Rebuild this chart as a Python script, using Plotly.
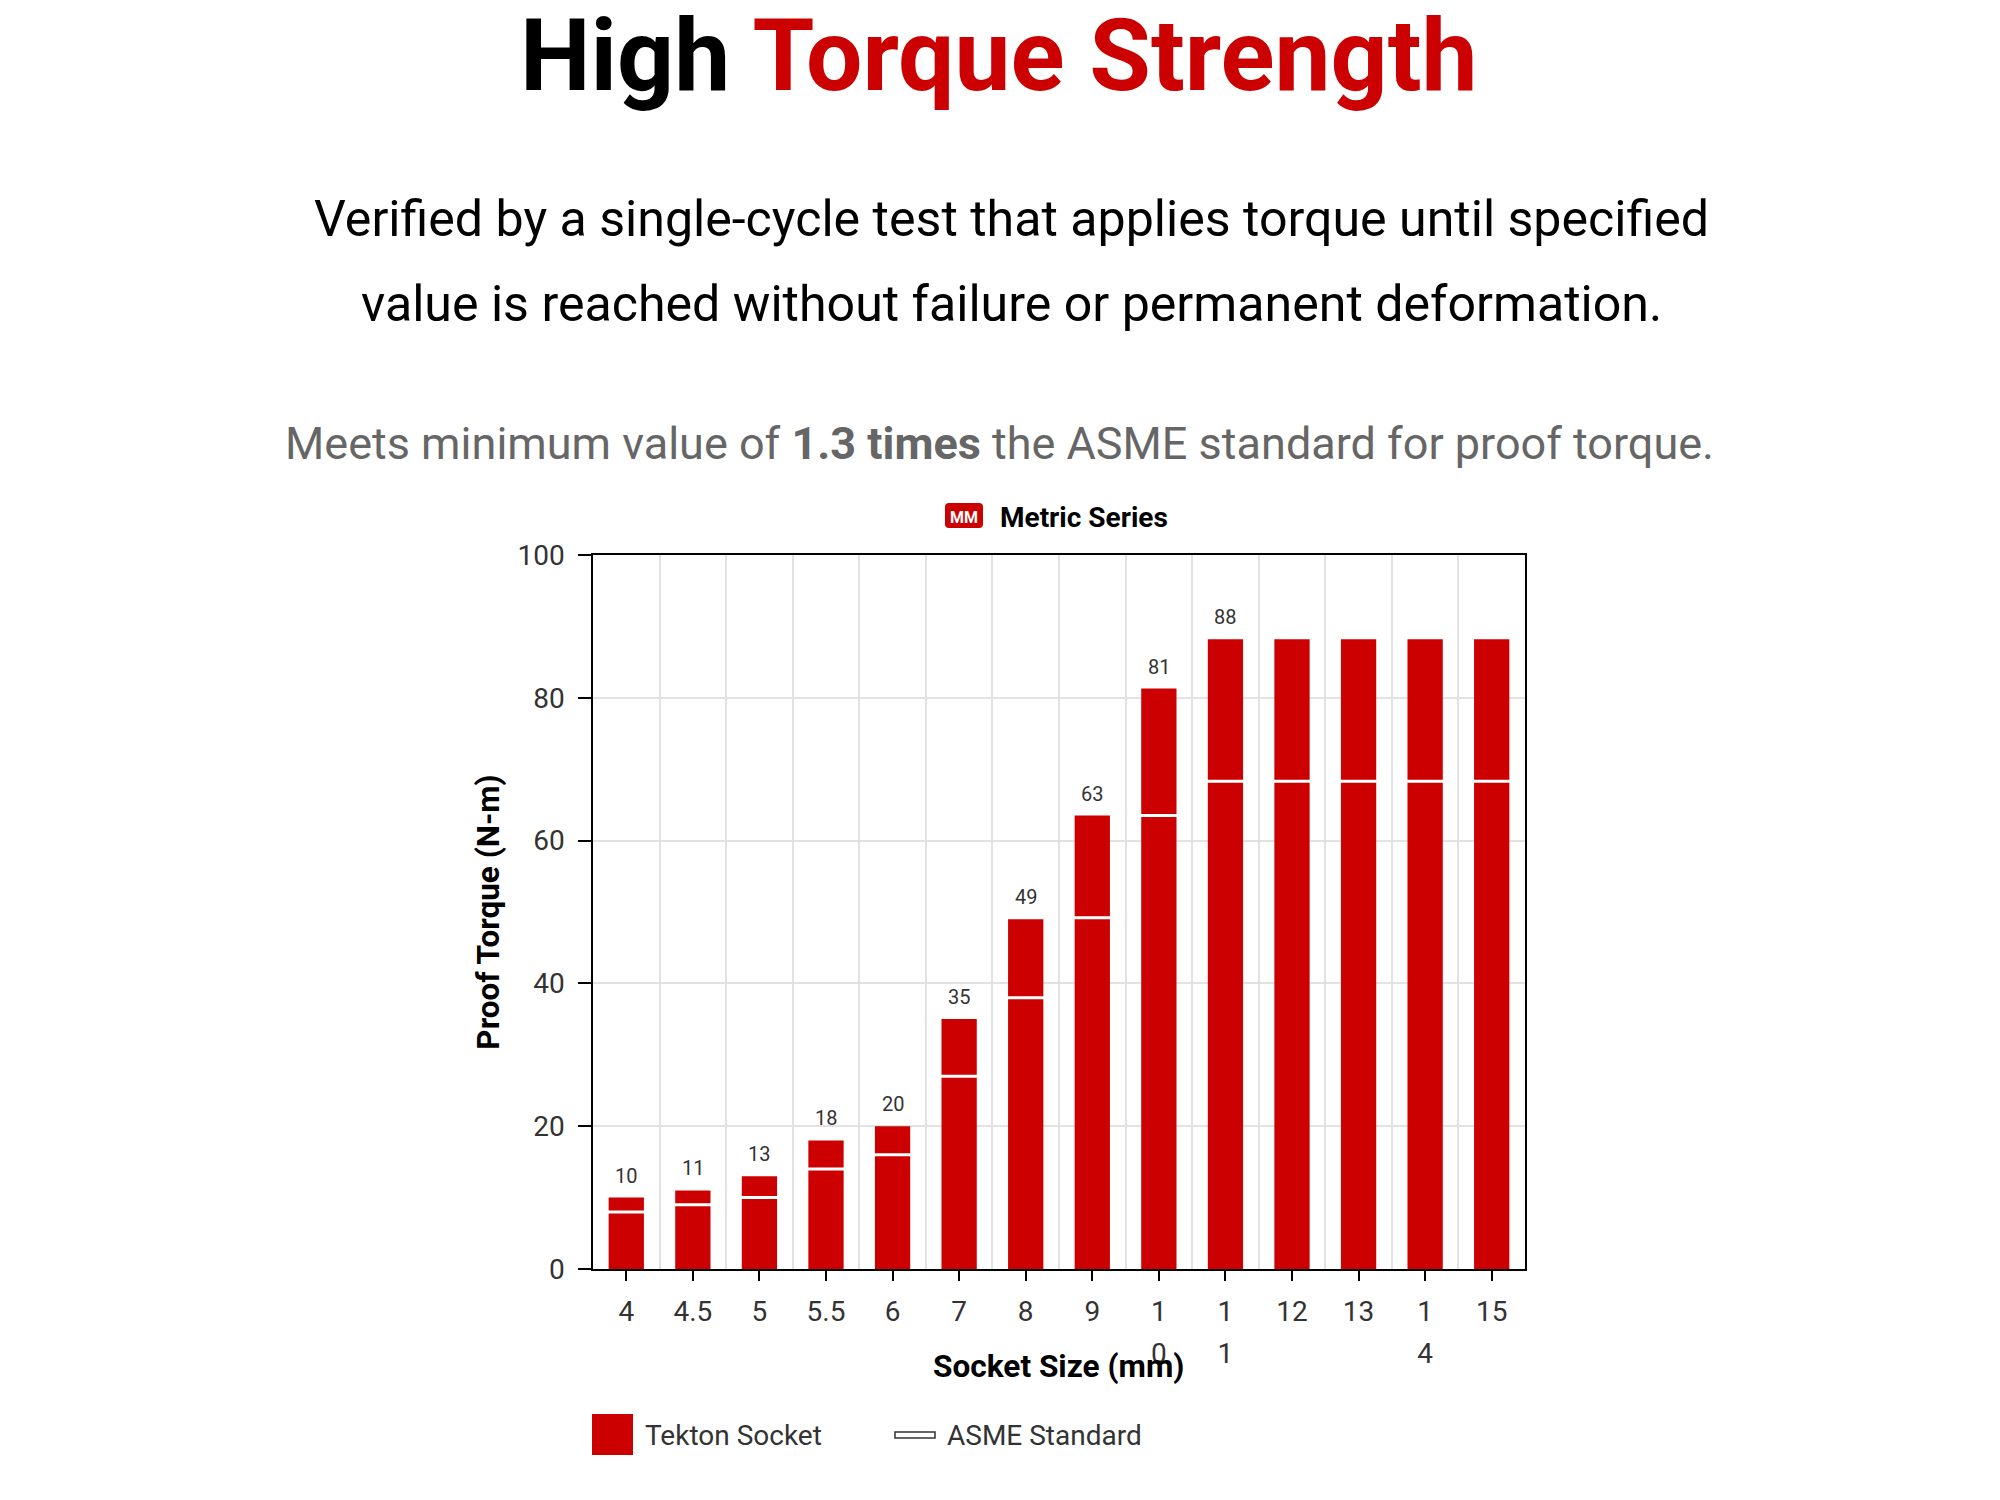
import plotly.graph_objects as go

sizes = ["4", "4.5", "5", "5.5", "6", "7", "8", "9", "10", "11", "12", "13", "14", "15"]
tick_lines = [["4"], ["4.5"], ["5"], ["5.5"], ["6"], ["7"], ["8"], ["9"], ["1", "0"], ["1", "1"], ["12"], ["13"], ["1", "4"], ["15"]]
tekton = [10, 11, 13, 18, 20, 35, 49, 63.5, 81.3, 88.2, 88.2, 88.2, 88.2, 88.2]
asme = [8, 9, 10, 14, 16, 27, 38, 49.2, 63.5, 68.3, 68.3, 68.3, 68.3, 68.3]
value_labels = ["10", "11", "13", "18", "20", "35", "49", "63", "81", "88", "", "", "", ""]

RED = "#cc0000"
DARK = "#333333"
FONT = "Roboto"
OFF_X, OFF_Y = 8, 8
L, R, T, B = 593, 1525, 555, 1269
W, H = 2000, 1500
CAT_RANGE = [-0.5, 13.5]


def px(x):
    return (x - L) / (R - L)


def py(y):
    return (B - y) / (B - T)


def txt(text, x, y, size, color="#000000", anchor="center"):
    return dict(text=text, x=px(x), y=py(y), xref="paper", yref="paper", xanchor=anchor, yanchor="middle",
                showarrow=False, font=dict(family=FONT, size=size, color=color))


def tick_text(lines):
    return "<br>".join(f'<span style="font-size:28px">{s}</span>' for s in lines)


fig = go.Figure()
fig.add_bar(x=sizes, y=tekton, marker=dict(color=RED, line=dict(width=0)), width=0.53, name="Tekton Socket",
            showlegend=False)
fig.add_scatter(x=sizes, y=asme, mode="markers", name="ASME Standard", showlegend=False,
                marker=dict(symbol="line-ew", size=37, line=dict(color="#ffffff", width=3)))
fig.add_scatter(x=sizes, y=tekton, mode="markers", xaxis="x2", marker=dict(opacity=0), showlegend=False,
                hoverinfo="skip")

annotations = [
    txt('<b>High <span style="color:#cc0000">Torque Strength</span></b>', 999, 55, 100),
    txt("Verified by a single-cycle test that applies torque until specified", 1011.5, 219, 50.1),
    txt("value is reached without failure or permanent deformation.", 1011.5, 304.5, 50.1),
    txt('Meets minimum value of <b>1.3 times</b> the ASME standard for proof torque.', 999, 443.5, 45, "#666666"),
    txt("<b>Metric Series</b>", 997.5, 517.5, 28, anchor="left"),
    txt("<b>MM</b>", 964, 517, 16, "#ffffff"),
    txt("<b>Socket Size (mm)</b>", 1058, 1366, 31.6),
    txt("Tekton Socket", 642.5, 1435, 28, DARK, "left"),
    txt("ASME Standard", 945, 1435, 28, DARK, "left"),
]
for i, (v, t) in enumerate(zip(tekton, value_labels)):
    if t:
        annotations.append(dict(text=t, x=i, y=v, xref="x", yref="y", yanchor="bottom", yshift=8, showarrow=False,
                                font=dict(family=FONT, size=20, color=DARK)))

shapes = [
    dict(type="path", xref="paper", yref="paper", fillcolor=RED, line=dict(width=0),
         path=f"M{px(949)},{py(503)} L{px(979)},{py(503)} Q{px(983)},{py(503)} {px(983)},{py(507)} "
              f"L{px(983)},{py(524)} Q{px(983)},{py(528)} {px(979)},{py(528)} L{px(949)},{py(528)} "
              f"Q{px(945)},{py(528)} {px(945)},{py(524)} L{px(945)},{py(507)} Q{px(945)},{py(503)} {px(949)},{py(503)} Z"),
    dict(type="rect", xref="paper", yref="paper", x0=px(592), x1=px(633), y0=py(1414), y1=py(1455),
         fillcolor=RED, line=dict(width=0)),
    dict(type="rect", xref="paper", yref="paper", x0=px(895), x1=px(935), y0=py(1432), y1=py(1438),
         fillcolor="#ffffff", line=dict(color=DARK, width=1.5)),
]

fig.update_layout(
    width=W, height=H, barmode="overlay", showlegend=False, plot_bgcolor="#ffffff", paper_bgcolor="#ffffff",
    margin=dict(l=L - OFF_X, r=W - (R - OFF_X), t=T - OFF_Y, b=H - (B - OFF_Y), pad=0),
    font=dict(family=FONT, color=DARK),
    annotations=annotations, shapes=shapes,
    xaxis=dict(type="category", categoryorder="array", categoryarray=sizes, tickson="boundaries", range=CAT_RANGE,
               tickmode="array", tickvals=sizes, ticktext=[tick_text(l) for l in tick_lines],
               showgrid=True, gridcolor="#e2e2e2", gridwidth=1.5, ticks="", ticklen=0,
               showline=True, linecolor="#000000", linewidth=1.5, mirror=True,
               tickfont=dict(family=FONT, size=32, color=DARK), ticklabelstandoff=12, automargin=False),
    xaxis2=dict(type="category", categoryorder="array", categoryarray=sizes, overlaying="x", side="bottom",
                range=CAT_RANGE, ticks="outside", ticklen=11, tickwidth=1.5, tickcolor="#000000",
                showticklabels=False, showgrid=False, showline=False, zeroline=False, automargin=False),
    yaxis=dict(range=[0, 100], tick0=0, dtick=20, showgrid=True, gridcolor="#e2e2e2", gridwidth=1.5,
               zeroline=False, ticks="outside", ticklen=13, tickwidth=1.5, tickcolor="#000000",
               showline=True, linecolor="#000000", linewidth=1.5, mirror=True,
               tickfont=dict(family=FONT, size=28, color=DARK), ticklabelstandoff=8, automargin=False,
               title=dict(text="<b>Proof Torque (N-m)</b>", font=dict(family=FONT, size=31.5, color="#000000"),
                          standoff=8)),
)

fig.write_html("out.html")
